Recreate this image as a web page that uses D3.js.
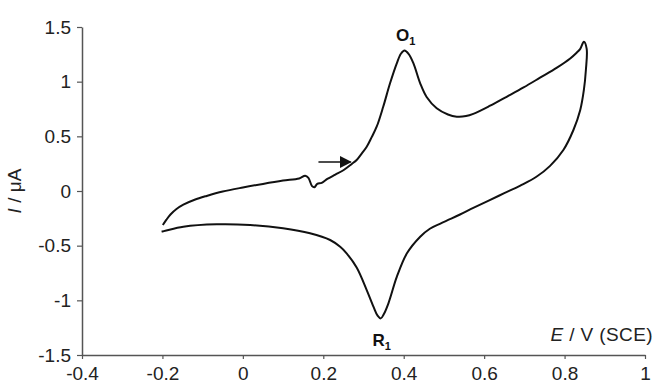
<!DOCTYPE html>
<html>
<head>
<meta charset="utf-8">
<script src="https://cdn.jsdelivr.net/npm/d3@7"></script>
<style>
  body { margin: 0; background: #fff; }
  text { font-family: "Liberation Sans", Arial, sans-serif; }
</style>
</head>
<body>
<div id="chart"></div>
<script>
// 掃引データ (E / V vs SCE, I / μA)
// 酸化方向 -0.2 V -> 0.85 V
const anodicE = [-0.199, -0.19, -0.18, -0.165, -0.148, -0.12, -0.09, -0.05, 0.0, 0.05, 0.1, 0.14,
  0.155, 0.163, 0.172, 0.178, 0.185, 0.196, 0.21, 0.23, 0.25, 0.27, 0.283, 0.295, 0.308, 0.32,
  0.333, 0.349, 0.366, 0.383, 0.393, 0.402, 0.412, 0.424, 0.441, 0.457, 0.482, 0.51, 0.532,
  0.555, 0.573, 0.615, 0.656, 0.698, 0.739, 0.781, 0.814, 0.83, 0.839, 0.848];
const anodicI = [-0.311, -0.262, -0.215, -0.165, -0.125, -0.08, -0.045, -0.005, 0.032, 0.065, 0.095, 0.115,
  0.14, 0.12, 0.045, 0.035, 0.065, 0.075, 0.11, 0.15, 0.19, 0.245, 0.284, 0.34, 0.405, 0.49,
  0.59, 0.77, 0.985, 1.17, 1.255, 1.285, 1.255, 1.17, 0.985, 0.86, 0.757, 0.70, 0.68,
  0.685, 0.705, 0.78, 0.862, 0.947, 1.036, 1.128, 1.212, 1.265, 1.30, 1.366];
// 還元方向 0.85 V -> -0.2 V
const cathodicE = [0.855, 0.853, 0.848, 0.839, 0.822, 0.797, 0.764, 0.73, 0.69, 0.65, 0.61, 0.573,
  0.54, 0.515, 0.49, 0.465, 0.441, 0.408, 0.383, 0.362, 0.35, 0.343, 0.335, 0.325, 0.308, 0.283, 0.258,
  0.242, 0.217, 0.167, 0.1, 0.018, -0.065, -0.148, -0.202];
const cathodicI = [1.30, 1.107, 0.924, 0.741, 0.558, 0.375, 0.23, 0.13, 0.05, -0.02, -0.09, -0.155,
  -0.215, -0.258, -0.3, -0.345, -0.418, -0.57, -0.784, -1.027, -1.13, -1.165, -1.14, -1.06, -0.906, -0.7, -0.57,
  -0.51, -0.448, -0.387, -0.341, -0.311, -0.305, -0.327, -0.372];

// 目盛り
const xTicks = [-0.4, -0.2, 0, 0.2, 0.4, 0.6, 0.8, 1];
const yTicks = [-1.5, -1, -0.5, 0, 0.5, 1, 1.5];

// 矢印 (掃引方向)
const arrowE = [0.188, 0.268];
const arrowI = 0.265;

// グラフの大きさを設定
const width = 657;
const height = 389;
const margin = {top: 27, right: 12, bottom: 34, left: 82};

const svg = d3.select('#chart')
  .append('svg')
  .attr('width', width)
  .attr('height', height);

const x = d3.scaleLinear().domain([-0.4, 1]).range([margin.left, width - margin.right]);
const y = d3.scaleLinear().domain([-1.5, 1.5]).range([height - margin.bottom, margin.top]);

const axisColor = '#555';
const fontSize = 19;

// 縦軸
const yAxis = svg.append('g')
  .attr('transform', 'translate(' + margin.left + ',0)')
  .call(d3.axisLeft(y).tickValues(yTicks).tickFormat(d => String(d)).tickSize(5).tickSizeOuter(0).tickPadding(6));

// 横軸
const xAxis = svg.append('g')
  .attr('transform', 'translate(0,' + (height - margin.bottom) + ')')
  .call(d3.axisBottom(x).tickValues(xTicks).tickFormat(d => String(d)).tickSize(4).tickSizeOuter(0).tickPadding(8));

[xAxis, yAxis].forEach(g => {
  g.select('.domain').attr('stroke', axisColor).attr('stroke-width', 1.5);
  g.selectAll('.tick line').attr('stroke', axisColor).attr('stroke-width', 1.2);
  g.selectAll('.tick text')
    .attr('fill', '#222')
    .style('font-size', fontSize + 'px')
    .style('font-family', '"Liberation Sans", Arial, sans-serif');
});

// CV曲線
const pts = anodicE.map((e, i) => [e, anodicI[i]])
  .concat(cathodicE.map((e, i) => [e, cathodicI[i]]));

const line = d3.line()
  .x(d => x(d[0]))
  .y(d => y(d[1]))
  .curve(d3.curveCatmullRom.alpha(0.5));

svg.append('path')
  .datum(pts)
  .attr('fill', 'none')
  .attr('stroke', '#111')
  .attr('stroke-width', 2)
  .attr('stroke-linejoin', 'round')
  .attr('d', line);

// 矢印
svg.append('defs').append('marker')
  .attr('id', 'head')
  .attr('viewBox', '0 0 10 10')
  .attr('refX', 9).attr('refY', 5)
  .attr('markerWidth', 12).attr('markerHeight', 12)
  .attr('markerUnits', 'userSpaceOnUse')
  .attr('orient', 'auto')
  .append('path')
  .attr('d', 'M0,0L10,5L0,10Z')
  .attr('fill', '#111');

svg.append('line')
  .attr('x1', x(arrowE[0])).attr('x2', x(arrowE[1]))
  .attr('y1', y(arrowI)).attr('y2', y(arrowI))
  .attr('stroke', '#111')
  .attr('stroke-width', 1.5)
  .attr('marker-end', 'url(#head)');

// ピーク名
function peakLabel(name, e, i) {
  const t = svg.append('text')
    .attr('x', x(e)).attr('y', y(i))
    .attr('text-anchor', 'middle')
    .style('font-size', '17px')
    .style('font-weight', 'bold')
    .attr('fill', '#111');
  t.append('tspan').text(name);
  t.append('tspan').text('1').attr('dy', 4).style('font-size', '11px');
}
peakLabel('O', 0.405, 1.37);
peakLabel('R', 0.345, -1.42);

// 軸ラベル
const xl = svg.append('text')
  .attr('x', width - 4).attr('y', 341)
  .attr('text-anchor', 'end')
  .style('font-size', fontSize + 'px')
  .style('letter-spacing', '0.4px')
  .attr('fill', '#222');
xl.append('tspan').text('E').style('font-style', 'italic');
xl.append('tspan').text(' / V (SCE)');

const yl = svg.append('text')
  .attr('transform', 'translate(21,' + y(0) + ') rotate(-90)')
  .attr('text-anchor', 'middle')
  .style('font-size', fontSize + 'px')
  .attr('fill', '#222');
yl.append('tspan').text('I').style('font-style', 'italic');
yl.append('tspan').text(' / μA');
</script>
</body>
</html>
